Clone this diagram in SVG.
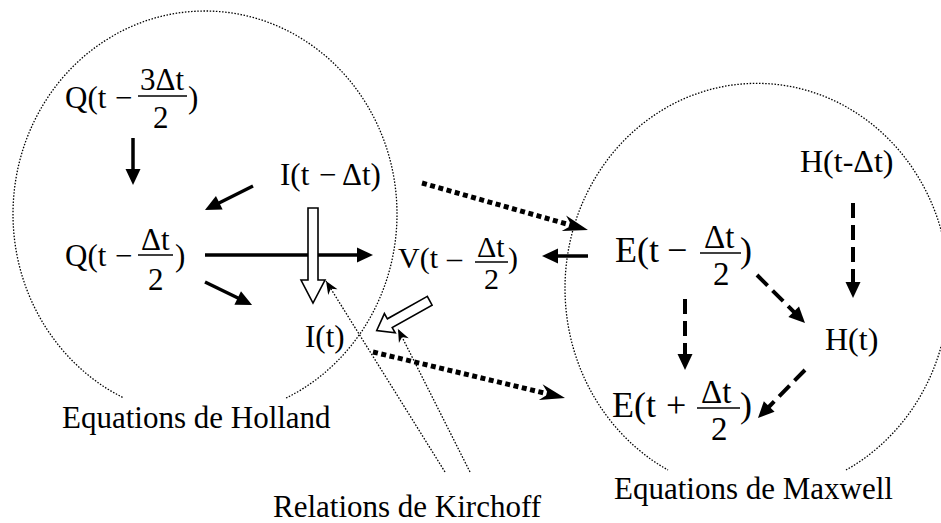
<svg xmlns="http://www.w3.org/2000/svg" width="941" height="523" viewBox="0 0 941 523">
<style>
text { font-family: "Liberation Serif", "Times New Roman", serif; fill: #000; }
.lbl { font-size: 31px; }
.m { font-size: 31px; }
.m30 { font-size: 30px; }
.m36 { font-size: 36px; }
.m33 { font-size: 33px; }
.m32 { font-size: 32px; }
.region { fill: none; stroke: #000; stroke-width: 1.3; stroke-dasharray: 1.5 1.6; }
.bar { stroke: #000; stroke-width: 1.5; }
.solid { fill: none; stroke: #000; stroke-width: 3.5; marker-end: url(#ah); }
.dash { fill: none; stroke: #000; stroke-width: 4; stroke-dasharray: 15 7; marker-end: url(#ah); }
.dots { fill: none; stroke: #000; stroke-width: 5; stroke-dasharray: 5 3.5; marker-end: url(#stealth); }
.thin { fill: none; stroke: #000; stroke-width: 1.3; stroke-dasharray: 1.6 1.6; marker-end: url(#small); }
.hollow { fill: #fff; stroke: #000; stroke-width: 1.6; stroke-linejoin: miter; }
</style>
<defs>
<marker id="ah" markerUnits="userSpaceOnUse" markerWidth="30" markerHeight="30" viewBox="-5 -15 30 30" refX="0" refY="0" orient="auto" overflow="visible">
<path d="M-2,-7.5 L14,0 L-2,7.5 Z" fill="#000"/>
</marker>
<marker id="stealth" markerUnits="userSpaceOnUse" markerWidth="40" markerHeight="40" viewBox="-20 -20 40 40" refX="0" refY="0" orient="auto" overflow="visible">
<path d="M14,0 L-11,-8 L-3,0 L-11,8 Z" fill="#000"/>
</marker>
<marker id="small" markerUnits="userSpaceOnUse" markerWidth="30" markerHeight="30" viewBox="-15 -15 30 30" refX="0" refY="0" orient="auto" overflow="visible">
<path d="M0,0 L-13,-5.5 L-9,0 L-13,5.5 Z" fill="#000"/>
</marker>
</defs>

<g id="regions">
<path id="holland-region" class="region" d="M286.1,398 A192,203 0 1 0 123.9,398"/>
<path id="maxwell-region" class="region" d="M846,470 A192,205 0 1 0 668,470"/>
</g>

<g id="connectors">
<line class="thin" x1="445" y1="472" x2="326" y2="281"/>
<line class="thin" x1="470" y1="472" x2="398" y2="329"/>
<line class="solid" x1="133" y1="138" x2="133" y2="171"/>
<line class="solid" x1="253" y1="186" x2="217.5" y2="203.7"/>
<line class="solid" x1="205" y1="255" x2="359" y2="255"/>
<line class="solid" x1="205" y1="282" x2="239.5" y2="298.8"/>
<line class="solid" x1="588" y1="256" x2="556" y2="256"/>
<line class="dash" x1="853" y1="203" x2="853" y2="284"/>
<line class="dash" x1="757" y1="275" x2="795.1" y2="313.1"/>
<line class="dash" x1="685" y1="299" x2="685" y2="356"/>
<line class="dash" x1="805" y1="370" x2="767.8" y2="408"/>
<line class="dots" x1="422" y1="183" x2="574.5" y2="226.2"/>
<line class="dots" x1="373" y1="352" x2="551.4" y2="394.7"/>
<polygon class="hollow" points="308,208 318,208 318,280 325,280 313,303 301,280 308,280"/>
<polygon class="hollow" points="427.3,296.4 387.4,318.8 384.4,313.6 376.7,330.5 395.2,332.8 392.2,327.6 432.1,305.2"/>
</g>

<g id="q-prev">
<text class="m" x="65" y="108">Q(t</text>
<text class="m" x="115" y="108">−</text>
<text class="m" x="140" y="90">3Δt</text>
<line class="bar" x1="138" y1="96" x2="187" y2="96"/>
<text class="m" x="153" y="128">2</text>
<text class="m" x="188" y="108">)</text>
</g>

<g id="q-half">
<text class="m" x="65" y="266">Q(t</text>
<text class="m" x="115" y="266">−</text>
<text class="m" x="141" y="250">Δt</text>
<line class="bar" x1="138" y1="255" x2="173" y2="255"/>
<text class="m" x="148" y="290">2</text>
<text class="m" x="175" y="266">)</text>
</g>

<g id="i-prev">
<text class="m" x="280" y="185">I(t</text>
<text class="m" x="319" y="185">−</text>
<text class="m" x="342" y="185">Δt)</text>
</g>

<g id="i-now">
<text class="m" x="305" y="347">I(t)</text>
</g>

<g id="v-half">
<text class="m30" x="398" y="268">V(t</text>
<text class="m30" x="447" y="268">–</text>
<text class="m30" x="477" y="257">Δt</text>
<line class="bar" x1="475" y1="262" x2="508" y2="262"/>
<text class="m30" x="484" y="289">2</text>
<text class="m30" x="508" y="268">)</text>
</g>

<g id="e-prev">
<text class="m36" x="615" y="262">E(t</text>
<text class="m36" x="667" y="262">−</text>
<text class="m33" x="704" y="248">Δt</text>
<line class="bar" x1="700" y1="253" x2="741" y2="253"/>
<text class="m33" x="713" y="285">2</text>
<text class="m36" x="740" y="262">)</text>
</g>

<g id="e-next">
<text class="m36" x="612" y="417">E(t</text>
<text class="m36" x="666" y="417">+</text>
<text class="m33" x="701" y="403">Δt</text>
<line class="bar" x1="697" y1="408" x2="740" y2="408"/>
<text class="m33" x="711" y="440">2</text>
<text class="m36" x="740" y="417">)</text>
</g>

<g id="h-prev">
<text class="m32" x="800" y="172">H(t-Δt)</text>
</g>

<g id="h-now">
<text class="m32" x="825" y="350">H(t)</text>
</g>

<g id="labels">
<text id="lbl-holland" class="lbl" x="62" y="428">Equations de Holland</text>
<text id="lbl-kirchoff" class="lbl" x="273" y="517">Relations de Kirchoff</text>
<text id="lbl-maxwell" class="lbl" x="614" y="499">Equations de Maxwell</text>
</g>
</svg>
